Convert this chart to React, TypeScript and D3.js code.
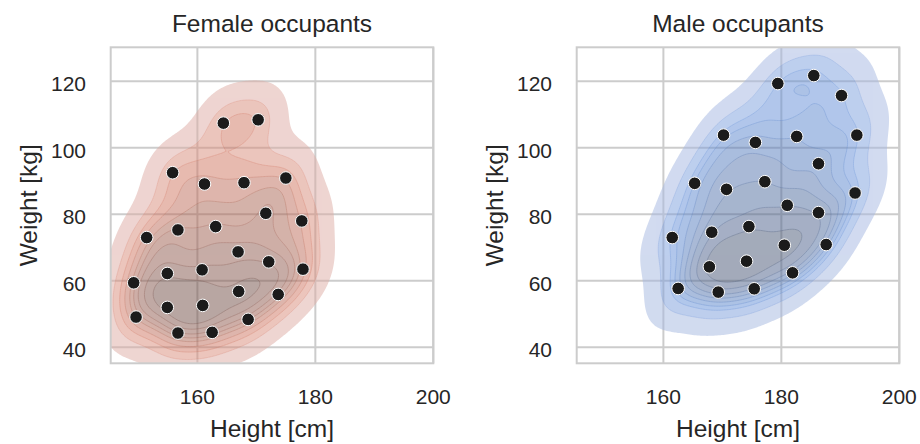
import React, { useMemo } from "react";
import * as d3 from "d3";

// values
const femaleHeight = [164.4, 170.3, 155.8, 161.2, 167.9, 175.0, 171.6, 177.7, 151.4, 156.7, 163.1, 166.9, 172.1, 177.9, 154.9, 160.8, 149.2, 167.0, 173.7, 154.9, 160.9, 149.6, 168.6, 156.7, 162.5];
const femaleWeight = [107.4, 108.4, 92.5, 89.1, 89.5, 90.9, 80.3, 78.0, 73.0, 75.3, 76.3, 68.7, 65.7, 63.5, 62.2, 63.3, 59.4, 56.8, 55.9, 52.0, 52.6, 49.1, 48.4, 44.3, 44.5];
const maleHeight = [179.4, 185.5, 190.2, 170.2, 175.6, 182.6, 192.8, 186.3, 165.3, 170.7, 177.2, 192.5, 181.0, 186.3, 161.5, 168.2, 174.5, 180.5, 187.6, 167.8, 174.1, 181.9, 162.5, 169.3, 175.4];
const maleWeight = [119.3, 121.7, 115.7, 103.8, 101.6, 103.4, 103.8, 95.2, 89.3, 87.5, 89.8, 86.4, 82.7, 80.5, 73.0, 74.6, 76.3, 70.7, 70.9, 64.2, 65.9, 62.4, 57.7, 56.6, 57.6];

const titles = ["Female occupants", "Male occupants"];
const xTicks = [160, 180, 200];
const yTicks = [40, 60, 80, 100, 120];

const W = 920;
const H = 444;
const FONT = "'Liberation Sans', Arial, sans-serif";
const TEXT = "#262626";
const GRID = "#cccccc";
const BW_ADJUST = 0.72;

// --- husl, enough of it to rebuild seaborn's cmap-from-color ---
const M = [
  [3.240969941904521, -1.537383177570093, -0.498610760293],
  [-0.96924363628087, 1.87596750150772, 0.041555057407175],
  [0.055630079696993, -0.20397695888897, 1.056971514242878],
];
const MINV = [
  [0.41239079926595, 0.35758433938387, 0.18048078840183],
  [0.21263900587151, 0.71516867876775, 0.072192315360733],
  [0.019330818715591, 0.11919477979462, 0.95053215224966],
];
const refU = 0.19783000664283;
const refV = 0.46831999493879;
const kappa = 903.2962962;
const epsilon = 0.0088564516;

function maxChroma(L: number, Hd: number) {
  const hr = (Hd / 360) * Math.PI * 2;
  const sub1 = Math.pow(L + 16, 3) / 1560896;
  const sub2 = sub1 > epsilon ? sub1 : L / kappa;
  let min = Infinity;
  for (const [m1, m2, m3] of M) {
    for (const t of [0, 1]) {
      const top1 = (284517 * m1 - 94839 * m3) * sub2;
      const top2 = (838422 * m3 + 769860 * m2 + 731718 * m1) * L * sub2 - 769860 * t * L;
      const bottom = (632260 * m3 - 126452 * m2) * sub2 + 126452 * t;
      const len = top2 / bottom / (Math.sin(hr) - (top1 / bottom) * Math.cos(hr));
      if (len >= 0) min = Math.min(min, len);
    }
  }
  return min;
}

function rgbToHusl(hex: string) {
  const c = d3.rgb(hex);
  const lin = [c.r, c.g, c.b].map((v) => {
    v /= 255;
    return v > 0.04045 ? Math.pow((v + 0.055) / 1.055, 2.4) : v / 12.92;
  });
  const [X, Y, Z] = MINV.map((r) => r[0] * lin[0] + r[1] * lin[1] + r[2] * lin[2]);
  const L = Y <= epsilon ? Y * kappa : 116 * Math.cbrt(Y) - 16;
  const d = X + 15 * Y + 3 * Z;
  const U = 13 * L * ((4 * X) / d - refU);
  const V = 13 * L * ((9 * Y) / d - refV);
  const C = Math.sqrt(U * U + V * V);
  let h = (Math.atan2(V, U) * 180) / Math.PI;
  if (h < 0) h += 360;
  return [h, (C / maxChroma(L, h)) * 100];
}

function huslToRgb(h: number, s: number, L: number) {
  const C = (maxChroma(L, h) / 100) * s;
  const hr = (h / 180) * Math.PI;
  const U = C * Math.cos(hr);
  const V = C * Math.sin(hr);
  const varU = U / (13 * L) + refU;
  const varV = V / (13 * L) + refV;
  const Y = L <= 8 ? L / kappa : Math.pow((L + 16) / 116, 3);
  const X = -(9 * Y * varU) / ((varU - 4) * varV - varU * varV);
  const Z = (9 * Y - 15 * varV * Y - varV * X) / (3 * varV);
  const rgb = M.map((r) => {
    const v = r[0] * X + r[1] * Y + r[2] * Z;
    const g = v <= 0.0031308 ? 12.92 * v : 1.055 * Math.pow(v, 1 / 2.4) - 0.055;
    return Math.round(Math.min(1, Math.max(0, g)) * 255);
  });
  return d3.rgb(rgb[0], rgb[1], rgb[2]).formatHex();
}

function cmapFromColor(hex: string) {
  const [h, s] = rgbToHusl(hex);
  const n = Math.floor(1.15 * 256);
  const cols: string[] = [];
  for (let j = 0; j < 256; j++) {
    const xx = -1 + (2 * j) / (n - 1);
    cols.push(huslToRgb(h, s * Math.cos(xx), 35 + (45 * j) / 255));
  }
  cols.reverse();
  return (t: number) => cols[Math.max(0, Math.min(255, Math.floor(t * 256)))];
}

// --- gaussian kde, scott bandwidth, like scipy ---
function kde(xs: number[], ys: number[]) {
  const n = xs.length;
  const mx = d3.mean(xs)!;
  const my = d3.mean(ys)!;
  let sxx = 0, syy = 0, sxy = 0;
  for (let i = 0; i < n; i++) {
    sxx += (xs[i] - mx) ** 2;
    syy += (ys[i] - my) ** 2;
    sxy += (xs[i] - mx) * (ys[i] - my);
  }
  const f2 = Math.pow(Math.pow(n, -1 / 6) * BW_ADJUST, 2);
  const cxx = (sxx / (n - 1)) * f2;
  const cyy = (syy / (n - 1)) * f2;
  const cxy = (sxy / (n - 1)) * f2;
  const det = cxx * cyy - cxy * cxy;
  const ixx = cyy / det, iyy = cxx / det, ixy = -cxy / det;
  const norm = 1 / (2 * Math.PI * Math.sqrt(det) * n);
  const G = 200;
  const bx = Math.sqrt(cxx), by = Math.sqrt(cyy);
  const x0 = d3.min(xs)! - 3 * bx, x1 = d3.max(xs)! + 3 * bx;
  const y0 = d3.min(ys)! - 3 * by, y1 = d3.max(ys)! + 3 * by;
  const sx = (x1 - x0) / (G - 1), sy = (y1 - y0) / (G - 1);
  const values = new Array(G * G).fill(0);
  for (let j = 0; j < G; j++) {
    const y = y0 + j * sy;
    for (let i = 0; i < G; i++) {
      const x = x0 + i * sx;
      let sum = 0;
      for (let k = 0; k < n; k++) {
        const dx = x - xs[k], dy = y - ys[k];
        sum += Math.exp(-0.5 * (ixx * dx * dx + 2 * ixy * dx * dy + iyy * dy * dy));
      }
      values[j * G + i] = sum * norm;
    }
  }
  // iso-proportion levels (thresh 0.05, 10 levels)
  const sorted = values.slice().sort((a, b) => b - a);
  const total = d3.sum(sorted);
  const cum: number[] = [];
  let acc = 0;
  for (const v of sorted) { acc += v; cum.push(acc / total); }
  const levels = d3.range(10).map((k) => {
    const q = 0.05 + (0.95 * k) / 9;
    const idx = Math.min(sorted.length - 1, d3.bisectLeft(cum, 1 - q));
    return sorted[idx];
  });
  const contours = d3.contours().size([G, G]).thresholds(levels.slice(0, 9))(values);
  return { contours, levels, x0, y0, sx, sy };
}

function Panel({ left, title, heights, weights, color, clipId }: any) {
  const right = left + 322.6;
  const top = 47.3;
  const bottom = 363.3;
  const x = d3.scaleLinear().domain([145.3, 200]).range([left, right]);
  const y = d3.scaleLinear().domain([35.2, 130.2]).range([bottom, top]);

  const dens = useMemo(() => kde(heights, weights), [heights, weights]);
  const cmap = useMemo(() => cmapFromColor(color), [color]);
  const lv = dens.levels;
  const bandColor = (i: number) => cmap(((lv[i] + lv[i + 1]) / 2 - lv[0]) / (lv[9] - lv[0]));

  const toPath = (mp: any) =>
    mp.coordinates
      .map((poly: any) =>
        poly
          .map((ring: any) =>
            "M" +
            ring
              .map((p: number[]) => {
                const px = x(dens.x0 + (p[0] - 0.5) * dens.sx);
                const py = y(dens.y0 + (p[1] - 0.5) * dens.sy);
                return px.toFixed(2) + "," + py.toFixed(2);
              })
              .join("L") +
            "Z"
          )
          .join("")
      )
      .join("");

  return (
    <g>
      <defs>
        <clipPath id={clipId}>
          <rect x={left} y={top} width={right - left} height={bottom - top} />
        </clipPath>
      </defs>
      {xTicks.map((t) => (
        <line key={"gx" + t} x1={x(t)} x2={x(t)} y1={top} y2={bottom} stroke={GRID} strokeWidth={2} />
      ))}
      {yTicks.map((t) => (
        <line key={"gy" + t} x1={left} x2={right} y1={y(t)} y2={y(t)} stroke={GRID} strokeWidth={2} />
      ))}
      <g clipPath={`url(#${clipId})`}>
        <g opacity={0.5}>
          {dens.contours.map((c, i) => (
            <path key={i} d={toPath(c)} fill={bandColor(i)} />
          ))}
        </g>
        <g opacity={0.35}>
          {dens.contours.map((c, i) =>
            i === 0 ? null : (
              <path key={i} d={toPath(c)} fill="none" stroke={bandColor(i)} strokeWidth={0.9} />
            )
          )}
        </g>
      </g>
      <rect x={left} y={top} width={right - left} height={bottom - top} fill="none" stroke={GRID} strokeWidth={2} />
      {heights.map((h: number, i: number) => (
        <circle key={i} cx={x(h)} cy={y(weights[i])} r={6.3} fill="#1b1b1b" stroke="#ffffff" strokeWidth={1} />
      ))}
      {xTicks.map((t) => (
        <text key={"tx" + t} x={x(t)} y={404} textAnchor="middle" fontSize={21} fill={TEXT} fontFamily={FONT}>
          {t}
        </text>
      ))}
      {yTicks.map((t) => (
        <text key={"ty" + t} x={left - 24.7} y={y(t) + 9.8} textAnchor="end" fontSize={21} fill={TEXT} fontFamily={FONT}>
          {t}
        </text>
      ))}
      <text x={(left + right) / 2} y={437} textAnchor="middle" fontSize={24.5} fill={TEXT} fontFamily={FONT}>
        Height [cm]
      </text>
      <text
        transform={`translate(${left - 73.7},${(top + bottom) / 2}) rotate(-90)`}
        textAnchor="middle"
        fontSize={24.5}
        fill={TEXT}
        fontFamily={FONT}
      >
        Weight [kg]
      </text>
      <text x={(left + right) / 2} y={31.5} textAnchor="middle" fontSize={24.5} fill={TEXT} fontFamily={FONT}>
        {title}
      </text>
    </g>
  );
}

export default function App() {
  return (
    <svg width={W} height={H} style={{ position: "absolute", left: 0, top: 0, background: "#ffffff" }}>
      <rect width={W} height={H} fill="#ffffff" />
      <Panel left={110.7} title={titles[0]} heights={femaleHeight} weights={femaleWeight} color="#CC7560" clipId="clipF" />
      <Panel left={576.7} title={titles[1]} heights={maleHeight} weights={maleWeight} color="#4C72B0" clipId="clipM" />
    </svg>
  );
}
